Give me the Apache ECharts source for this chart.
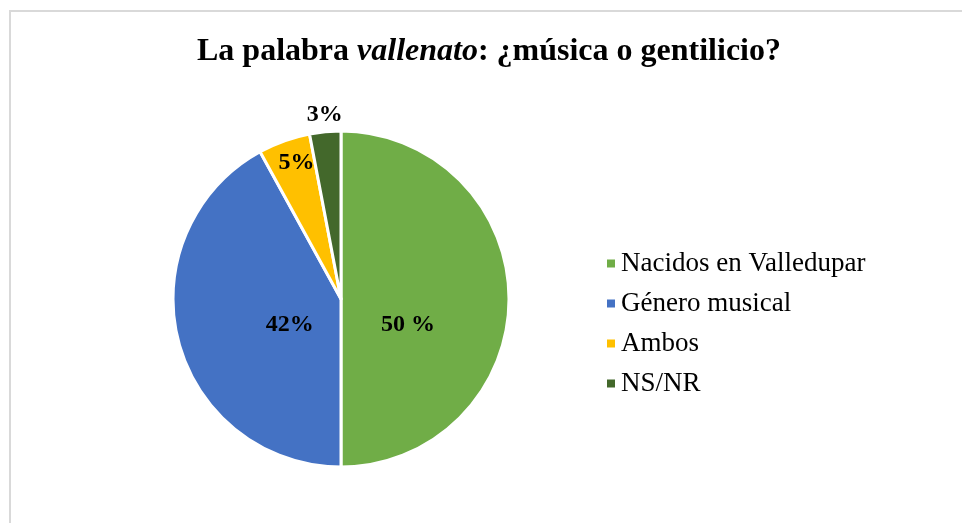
<!DOCTYPE html>
<html>
<head>
<meta charset="utf-8">
<script src="https://cdn.jsdelivr.net/npm/echarts@6/dist/echarts.min.js"></script>
<style>html,body{margin:0;padding:0;background:#fff;}#c{width:962px;height:523px;}</style>
</head>
<body>
<div id="c"></div>
<script>
var categories = ['Nacidos en Valledupar', 'Género musical', 'Ambos', 'NS/NR'];
var values = [50, 42, 5, 3];
var labelTexts = ['50 %', '42%', '5%', '3%'];
var colors = ['#70AD47', '#4472C4', '#FFC000', '#43682B'];
var labelShift = [[-20, 26], [33, 4], [-15, -54], [-8, -98]];

var serif = '"Liberation Serif", "Times New Roman", serif';
var chart = echarts.init(document.getElementById('c'), null, {renderer: 'canvas'});
chart.setOption({
  animation: false,
  backgroundColor: '#fff',
  graphic: [{
    type: 'rect', silent: true,
    shape: {x: 10, y: 11, width: 1000, height: 600},
    style: {fill: 'none', stroke: '#d9d9d9', lineWidth: 2}
  }],
  title: {
    text: '{a|La palabra }{b|vallenato}{a|: ¿música o gentilicio?}',
    left: 197,
    top: 36,
    padding: 0,
    textStyle: {
      rich: {
        a: {fontFamily: serif, fontWeight: 'bold', fontSize: 32, color: '#000'},
        b: {fontFamily: serif, fontWeight: 'bold', fontStyle: 'italic', fontSize: 32, color: '#000'}
      }
    }
  },
  legend: {
    orient: 'vertical',
    left: 600,
    top: 245,
    icon: 'rect',
    itemWidth: 10,
    itemHeight: 10,
    itemGap: 13,
    textStyle: {fontFamily: serif, fontSize: 27, lineHeight: 27, color: '#000'},
    data: categories
  },
  series: [{
    type: 'pie',
    center: [341, 299],
    radius: 168,
    startAngle: 90,
    clockwise: true,
    avoidLabelOverlap: false,
    itemStyle: {borderColor: '#fff', borderWidth: 3},
    label: {
      show: true,
      position: 'inside',
      fontFamily: serif,
      fontWeight: 'bold',
      fontSize: 24,
      color: '#000',
      formatter: function (p) { return labelTexts[p.dataIndex]; }
    },
    labelLine: {show: false},
    labelLayout: function (p) {
      var s = labelShift[p.dataIndex];
      return {dx: s[0], dy: s[1]};
    },
    emphasis: {disabled: true},
    data: categories.map(function (c, i) {
      return {name: c, value: values[i], itemStyle: {color: colors[i]}};
    })
  }]
});
</script>
</body>
</html>
